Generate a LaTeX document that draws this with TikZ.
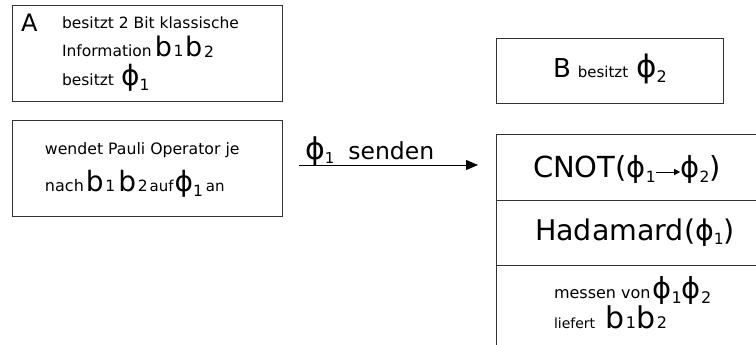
\documentclass[tikz,border=0pt]{standalone}
\usepackage{fontspec}
\setmainfont{DejaVu Sans}
\usetikzlibrary{arrows.meta}
\newcommand\fsz[2]{{\fontsize{#1}{#1}\selectfont #2}}
\newcommand\dn[3]{\raisebox{-#2pt}{\fontsize{#1}{#1}\selectfont #3}}
\begin{document}
\begin{tikzpicture}[x=1pt,y=-1pt,
  box/.style={draw=black!80,line width=1pt,inner sep=0pt},
  txt/.style={anchor=base west,inner sep=0pt,outer sep=0pt},
  conn/.style={draw=black!80,line width=1pt}]
\useasboundingbox (0,0) rectangle (756,345);
% left boxes
\node[box,minimum width=270pt,minimum height=96pt] (boxA) at (147,54) {};
\node[box,minimum width=270pt,minimum height=95pt] (boxP) at (147,168.5) {};
\node[txt] (tA) at (21,32) {\fsz{24}{A}};
\node[txt] (a1) at (62,29) {\fsz{15.5}{besitzt 2 Bit klassische}};
\node[txt] (a2) at (62,57) {\fsz{15.5}{Information} \fsz{27}{b}\,\dn{15.5}{0}{1}\,\fsz{27}{b}\,\dn{15.5}{1}{2}};
\node[txt] (a3) at (62,86) {\fsz{15.5}{besitzt}\hspace{7pt}\fsz{28}{ϕ}\dn{15.5}{5}{1}};
\node[txt] (p1) at (45,154) {\fsz{15.7}{wendet Pauli Operator je}};
\node[txt] (p2) at (45,191) {\fsz{16}{nach}\hspace{2pt}\fsz{28}{b}\,\dn{15.5}{0}{1} \fsz{28}{b}\,\dn{15.5}{0}{2}\hspace{2pt}\fsz{15}{auf}\hspace{1pt}\fsz{28}{ϕ}\dn{15.5}{5}{1}\hspace{3pt}\fsz{15}{an}};
% arrow
\coordinate (s) at (299,165);
\coordinate (e) at (478,165);
\draw[conn,draw=black,-{Triangle[length=12pt,width=10pt]}] (s) -- (e);
\node[txt] (lbl) at (305,159) {\fsz{30}{ϕ}\dn{15}{4}{1}\hspace{14pt}\fsz{23.5}{senden}};
% B box
\node[box,minimum width=227pt,minimum height=65pt] (boxB) at (609.5,71.5) {};
\node[txt] (b1) at (553,78) {\fsz{26}{B}\hspace{7pt}\fsz{15}{besitzt}\hspace{8pt}\fsz{31}{ϕ}\dn{16}{5}{2}};
% stack
\coordinate (st) at (756,135);
\coordinate (sc) at (496.5,135);
\coordinate (sb) at (496.5,345);
\coordinate (l1a) at (496.5,200);
\coordinate (l1b) at (756,200);
\coordinate (l2a) at (496.5,265.5);
\coordinate (l2b) at (756,265.5);
\draw[conn] (st) -- (sc) -- (sb);
\draw[conn] (l1a) -- (l1b);
\draw[conn] (l2a) -- (l2b);
\node[txt] (c1) at (533,178) {\fsz{29}{CNOT(ϕ}\dn{15.5}{5}{1}\tikz[x=1pt,y=1pt,baseline=0pt]{\draw[line width=0.8pt,-{Triangle[length=6pt,width=6pt]}] (0,6) -- (24,6);}\fsz{29}{ϕ}\dn{15.5}{5}{2}\fsz{29}{)}};
\node[txt] (c2) at (535,240) {\fsz{28.5}{Hadamard(ϕ}\dn{15.5}{5}{1}\fsz{28.5}{)}};
\node[txt] (c3) at (554,298) {\fsz{16}{messen von}\hspace{2pt}\fsz{29}{ϕ}\dn{16}{5}{1}\fsz{29}{ϕ}\dn{16}{5}{2}};
\node[txt] (c4) at (554,328) {\fsz{14}{liefert}\hspace{10pt}\fsz{30}{b}\,\dn{16}{0}{1}\fsz{30}{b}\,\dn{16}{0}{2}};
\end{tikzpicture}
\end{document}
